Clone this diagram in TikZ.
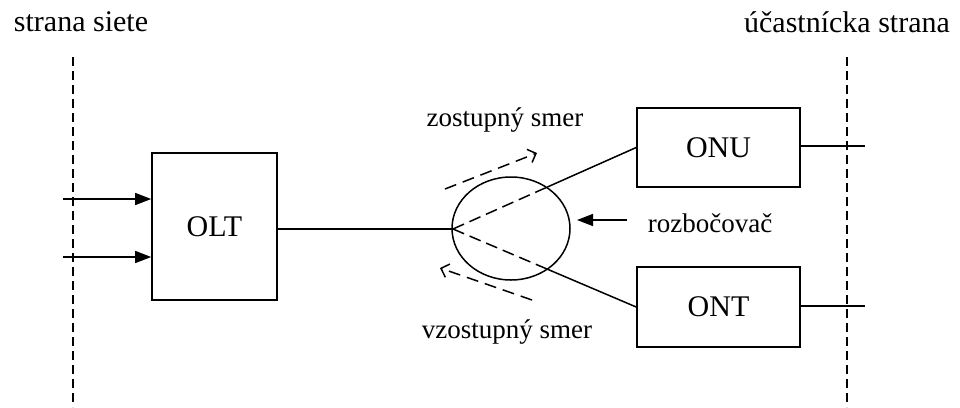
\documentclass[tikz,border=0pt]{standalone}
\usepackage{fontspec}
\setmainfont{Liberation Serif}
\usetikzlibrary{arrows.meta,calc,shapes.geometric}
\begin{document}
\begin{tikzpicture}[x=1pt,y=-1pt,
  box/.style={draw,line width=1.6pt,minimum width=#1,inner sep=0pt,font=\fontsize{30}{32}\selectfont},
  lbl/.style={font=\fontsize{27}{29}\selectfont,inner sep=0pt},
  big/.style={font=\fontsize{30}{32}\selectfont,inner sep=0pt},
  wire/.style={line width=1.5pt},
  tip/.style={-{Triangle[length=16pt,width=12pt]}},
  border/.style={line width=1.5pt,dash pattern=on 9pt off 5pt},
  flow/.style={line width=1.5pt,dash pattern=on 12pt off 7pt,-{Straight Barb[length=7pt,width=14pt,line width=1.5pt]}}]
\useasboundingbox (0,0) rectangle (960,407);
% side labels
\node[big] (net) at (81,22) {strana siete};
\node[big] (sub) at (847,22) {účastnícka strana};
% borders
\coordinate (bl1) at (73,57); \coordinate (bl2) at (73,407);
\coordinate (br1) at (847,57); \coordinate (br2) at (847,407);
\draw[border] (bl1) -- (bl2);
\draw[border] (br1) -- (br2);
% boxes
\node[box=125pt,minimum height=147pt] (OLT) at (214.5,226.5) {OLT};
\node[box=163pt,minimum height=79pt] (ONU) at (718.5,147.5) {ONU};
\node[box=163pt,minimum height=80pt] (ONT) at (718.5,307) {ONT};
\node[draw,wire,ellipse,minimum width=118pt,minimum height=103pt,inner sep=0pt] (spl) at (511,228.5) {};
% inputs
\coordinate (in1) at (63,199);
\coordinate (in2) at (63,257);
\draw[wire,tip] (in1) -- (in1 -| OLT.west);
\draw[wire,tip] (in2) -- (in2 -| OLT.west);
% OLT to splitter
\coordinate (j) at (453,229);
\draw[wire] (OLT.east |- j) -- (j);
% branches
\coordinate (bu) at ($(j)!0.515!(ONU.west)$);
\coordinate (bd) at ($(j)!0.515!(ONT.west)$);
\draw[wire,dash pattern=on 12pt off 6pt] (j) -- (bu);
\draw[wire] (bu) -- (ONU.west);
\draw[wire,dash pattern=on 12pt off 6pt] (j) -- (bd);
\draw[wire] (bd) -- (ONT.west);
% outputs
\coordinate (o1) at (865,146);
\coordinate (o2) at (865,306);
\draw[wire] (ONU.east |- o1) -- (o1);
\draw[wire] (ONT.east |- o2) -- (o2);
% splitter label
\node[lbl] (rz) at (710,223) {rozbočovač};
\coordinate (p1) at (627,220);
\coordinate (p2) at (577,220);
\draw[wire,tip] (p1) -- (p2);
% direction labels
\node[lbl] (down) at (505,120) {zostupný smer};
\node[lbl] (up) at (507,332) {vzostupný smer};
\coordinate (d1) at (445,189);
\coordinate (d2) at (537,153);
\draw[flow] (d1) -- (d2);
\coordinate (u1) at (532,300);
\coordinate (u2) at (440,268);
\draw[flow] (u1) -- (u2);
\end{tikzpicture}
\end{document}
